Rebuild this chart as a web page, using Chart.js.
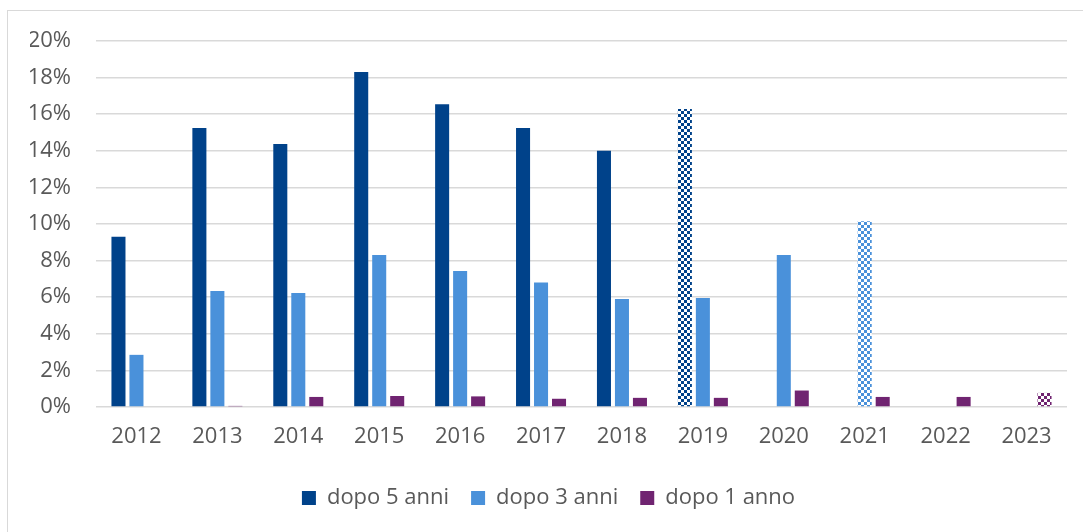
<!DOCTYPE html>
<html>
<head>
<meta charset="utf-8">
<script src="https://cdn.jsdelivr.net/npm/chart.js@4.4.0/dist/chart.umd.min.js"></script>
<style>
    html, body { margin: 0; padding: 0; background: #fff; overflow: hidden; }
    #frame { position: absolute; left: 7px; top: 10px; width: 1100px; height: 560px; border: 1px solid #d9d9d9; }
    #chart { position: absolute; left: 0; top: 0; }
</style>
</head>
<body>
<div id="frame"></div>
<canvas id="chart" width="1083" height="532"></canvas>
<script>
// Data for the chart (percent values)
const years = ['2012', '2013', '2014', '2015', '2016', '2017', '2018', '2019', '2020', '2021', '2022', '2023'];
const dopo5 = [9.3, 15.25, 14.37, 18.3, 16.55, 15.25, 14.0, 16.28, null, null, null, null];
const dopo3 = [2.85, 6.34, 6.23, 8.3, 7.43, 6.8, 5.9, 5.96, 8.3, 10.15, null, null];
const dopo1 = [null, 0.06, 0.55, 0.6, 0.58, 0.45, 0.5, 0.5, 0.9, 0.55, 0.55, 0.77];
// estimated (checkered) bars
const stima5 = [false, false, false, false, false, false, false, true, false, false, false, false];
const stima3 = [false, false, false, false, false, false, false, false, false, true, false, false];
const stima1 = [false, false, false, false, false, false, false, false, false, false, false, true];
const yTicks = [0, 2, 4, 6, 8, 10, 12, 14, 16, 18, 20];

const colors = ['#00428a', '#4a91da', '#702471'];

// checker pattern for estimated values
function checker(color) {
    const c = document.createElement('canvas');
    c.width = 6; c.height = 6;
    const g = c.getContext('2d');
    g.fillStyle = '#ffffff';
    g.fillRect(0, 0, 6, 6);
    g.fillStyle = color;
    g.fillRect(0, 0, 3, 3);
    g.fillRect(3, 3, 3, 3);
    return g.createPattern(c, 'repeat');
}

function fills(color, flags) {
    const p = checker(color);
    return flags.map(f => f ? p : color);
}

const font = { family: '"Open Sans", "Liberation Sans", sans-serif', size: 22 };

const ctx = document.getElementById('chart').getContext('2d');
const chart = new Chart(ctx, {
    type: 'bar',
    data: {
        labels: years,
        datasets: [
            { label: 'dopo 5 anni', data: dopo5, backgroundColor: fills(colors[0], stima5) },
            { label: 'dopo 3 anni', data: dopo3, backgroundColor: fills(colors[1], stima3) },
            { label: 'dopo 1 anno', data: dopo1, backgroundColor: fills(colors[2], stima1) }
        ]
    },
    options: {
        responsive: false,
        animation: false,
        categoryPercentage: 0.667,
        barPercentage: 0.78,
        layout: { padding: { left: 30, right: 16, top: 41, bottom: 13 } },
        scales: {
            y: {
                min: 0,
                max: 20,
                afterBuildTicks: function(scale) {
                    scale.ticks = yTicks.map(v => ({ value: v }));
                },
                afterFit: function(scale) {
                    scale.width = 66;
                },
                ticks: {
                    padding: 25,
                    color: '#595959',
                    font: font,
                    callback: function(value) {
                        return value + '%';
                    }
                },
                grid: { color: '#d9d9d9', lineWidth: 1.5, drawTicks: false },
                border: { display: false }
            },
            x: {
                afterFit: function(scale) {
                    scale.height = 58;
                },
                ticks: { padding: 17, color: '#595959', font: font, maxRotation: 0 },
                grid: { display: false, drawTicks: false },
                border: { display: false }
            }
        },
        plugins: {
            legend: {
                position: 'bottom',
                labels: {
                    boxWidth: 14,
                    boxHeight: 14,
                    padding: 22,
                    color: '#595959',
                    font: font,
                    generateLabels: function(chart) {
                        return chart.data.datasets.map((ds, i) => ({
                            text: ds.label,
                            fillStyle: colors[i],
                            strokeStyle: colors[i],
                            lineWidth: 0,
                            fontColor: '#595959',
                            datasetIndex: i
                        }));
                    }
                }
            },
            tooltip: { enabled: false }
        }
    }
});
</script>
</body>
</html>
